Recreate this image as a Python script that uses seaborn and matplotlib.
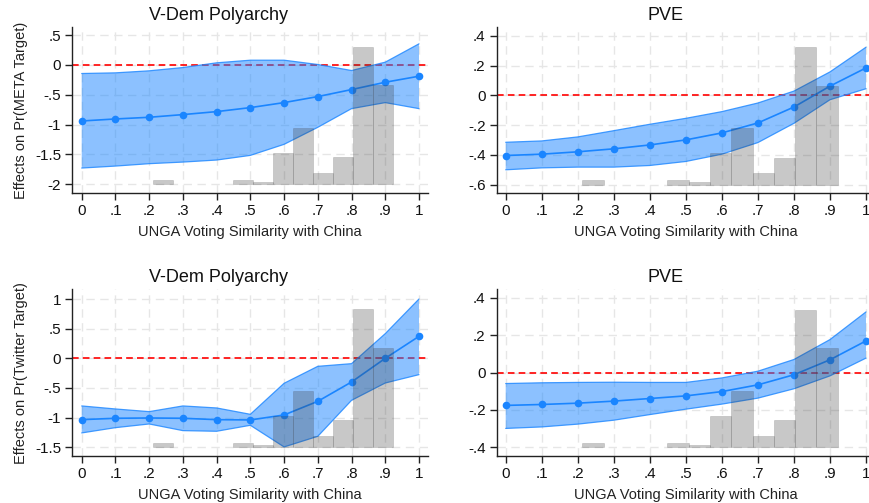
import numpy as np
import pandas as pd
import matplotlib
matplotlib.use("Agg")
import matplotlib.pyplot as plt
import seaborn as sns
from matplotlib.ticker import FuncFormatter

# ---------------- data ----------------
x_vals = [0.0, 0.1, 0.2, 0.3, 0.4, 0.5, 0.6, 0.7, 0.8, 0.9, 1.0]

meta_vdem_est = [-0.94, -0.906, -0.878, -0.833, -0.783, -0.716, -0.632, -0.531, -0.414, -0.291, -0.19]
meta_vdem_hi = [-0.145, -0.134, -0.10, -0.045, 0.034, 0.078, 0.078, 0.006, -0.095, 0.045, 0.352]
meta_vdem_lo = [-1.728, -1.695, -1.655, -1.628, -1.594, -1.516, -1.331, -1.046, -0.733, -0.632, -0.733]

meta_pve_est = [-0.404, -0.395, -0.379, -0.359, -0.333, -0.299, -0.252, -0.185, -0.078, 0.0625, 0.185]
meta_pve_hi = [-0.315, -0.306, -0.279, -0.237, -0.194, -0.154, -0.109, -0.051, 0.029, 0.158, 0.324]
meta_pve_lo = [-0.50, -0.487, -0.482, -0.482, -0.471, -0.444, -0.395, -0.317, -0.1875, -0.029, 0.045]

tw_vdem_est = [-1.034, -1.011, -1.006, -1.011, -1.034, -1.039, -0.955, -0.725, -0.399, 0.0, 0.371]
tw_vdem_hi = [-0.803, -0.854, -0.899, -0.803, -0.837, -0.944, -0.421, -0.135, -0.09, 0.416, 1.0]
tw_vdem_lo = [-1.258, -1.169, -1.107, -1.219, -1.230, -1.129, -1.494, -1.315, -0.708, -0.416, -0.275]

tw_pve_est = [-0.176, -0.171, -0.164, -0.153, -0.139, -0.125, -0.102, -0.066, -0.012, 0.068, 0.169]
tw_pve_hi = [-0.059, -0.055, -0.053, -0.052, -0.053, -0.053, -0.029, 0.007, 0.0695, 0.176, 0.324]
tw_pve_lo = [-0.299, -0.291, -0.276, -0.255, -0.225, -0.196, -0.169, -0.137, -0.087, -0.018, 0.077]

hist_start = 0.2125
hist_width = 0.0591
hist_counts = [2, 0, 0, 0, 2, 1, 14, 25, 5, 12, 61, 44]

titles = ["V-Dem Polyarchy", "PVE", "V-Dem Polyarchy", "PVE"]
ylabels = ["Effects on Pr(META Target)", None, "Effects on Pr(Twitter Target)", None]
xlabel = "UNGA Voting Similarity with China"
x_ticks = [0, .1, .2, .3, .4, .5, .6, .7, .8, .9, 1]
y_ticks = [
    [-2, -1.5, -1, -.5, 0, .5],
    [-.6, -.4, -.2, 0, .2, .4],
    [-1.5, -1, -.5, 0, .5, 1],
    [-.4, -.2, 0, .2, .4],
]
y_lims = [(-2.146, 0.634), (-0.656, 0.46), (-1.647, 1.164), (-0.4465, 0.445)]

series = [
    (meta_vdem_est, meta_vdem_lo, meta_vdem_hi),
    (meta_pve_est, meta_pve_lo, meta_pve_hi),
    (tw_vdem_est, tw_vdem_lo, tw_vdem_hi),
    (tw_pve_est, tw_pve_lo, tw_pve_hi),
]

# ---------------- style ----------------
sns.set_style("white")
plt.rcParams["font.family"] = ["Liberation Sans", "DejaVu Sans"]

blue = "#1a85ff"
W, H = 869, 503
fig = plt.figure(figsize=(W / 100, H / 100), dpi=100)

# axes rectangles in pixels: left, top, right, bottom
rects = [
    (72.3, 27, 428.0, 193),
    (496.7, 27, 875.0, 193),
    (72.3, 289.3, 428.0, 456),
    (496.7, 289.3, 875.0, 456),
]
title_cx = [218.7, 665.7, 219.0, 665.7]
x_lims = [(-0.0279, 1.0267), (-0.025, 1.025), (-0.0279, 1.0267), (-0.025, 1.025)]


def fmt(v, pos):
    s = f"{v:g}"
    if s.startswith("0."):
        s = s[1:]
    elif s.startswith("-0."):
        s = "-" + s[2:]
    return s


counts_per_axes_height = 73.8
edges = [hist_start + i * hist_width for i in range(len(hist_counts))]

for i in range(4):
    l, t, r, b = rects[i]
    ax = fig.add_axes([l / W, 1 - b / H, (r - l) / W, (b - t) / H])
    est, lo, hi = series[i]
    df = pd.DataFrame({"x": x_vals, "est": est, "lo": lo, "hi": hi})
    ymin, ymax = y_lims[i]

    # reference line
    ax.axhline(0, color="#ff0000", lw=1.2, ls=(0, (4, 2.5)), zorder=1.5)

    # CI band
    ax.fill_between(df["x"], df["lo"], df["hi"], facecolor=blue, alpha=0.5,
                    edgecolor="none", zorder=2)
    ax.plot(df["x"], df["lo"], color=blue, lw=0.9, alpha=0.8, zorder=2.1)
    ax.plot(df["x"], df["hi"], color=blue, lw=0.9, alpha=0.8, zorder=2.1)

    # point estimates
    sns.lineplot(data=df, x="x", y="est", ax=ax, color=blue, lw=1.2,
                 marker="o", markersize=5.5, markeredgewidth=0,
                 zorder=3, legend=False)

    # histogram
    k = (ymax - ymin) / counts_per_axes_height
    base = y_ticks[i][0]
    heights = [c * k for c in hist_counts]
    lws = [0.4 if c > 0 else 0.0 for c in hist_counts]
    ax.bar(edges, heights, width=hist_width, bottom=base, align="edge",
           color="#3a3a3a", alpha=0.28, edgecolor="#3a3a3a", linewidth=lws,
           zorder=4)

    ax.set_xlim(*x_lims[i])
    ax.set_ylim(ymin, ymax)
    ax.set_xticks(x_ticks)
    ax.set_yticks(y_ticks[i])
    ax.xaxis.set_major_formatter(FuncFormatter(fmt))
    ax.yaxis.set_major_formatter(FuncFormatter(fmt))
    ax.tick_params(axis="both", direction="out", length=5, width=1,
                   color="#222222", labelsize=11, pad=3, labelcolor="#111111")
    ax.tick_params(axis="both", which="both", bottom=True, left=True)
    ax.grid(True, color="#e6e6e6", lw=1.0, ls=(0, (6, 4)), zorder=0)
    ax.set_axisbelow(True)
    for s in ["top", "right"]:
        ax.spines[s].set_visible(False)
    for s in ["left", "bottom"]:
        ax.spines[s].set_color("#222222")
        ax.spines[s].set_linewidth(1.0)

    ax.set_title(titles[i], fontsize=13, pad=5, color="#111111",
                 x=(title_cx[i] - l) / (r - l))
    ax.set_xlabel(xlabel, fontsize=10.5, labelpad=5, color="#222222")
    if ylabels[i]:
        ax.set_ylabel(ylabels[i], fontsize=10.5, labelpad=5, color="#222222")
    else:
        ax.set_ylabel("")

fig.savefig("out.png", dpi=100)
